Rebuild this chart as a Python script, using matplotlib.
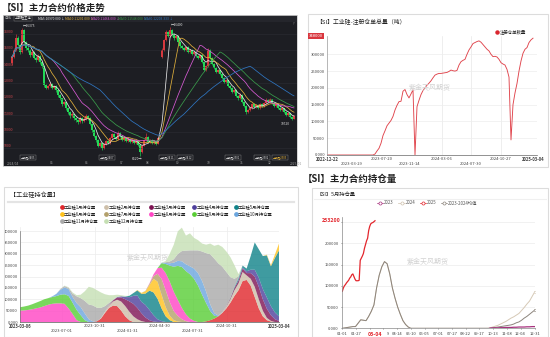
import numpy as np
import pandas as pd
import matplotlib
matplotlib.use('Agg')
import matplotlib.pyplot as plt
from matplotlib.patches import Rectangle
from matplotlib.lines import Line2D

plt.rcParams['font.family'] = ['Noto Sans CJK SC', 'DejaVu Sans']
plt.rcParams['axes.unicode_minus'] = False

# ---------------- data: SI main contract daily candles (two legs) ----------------
open1_first = 14200
close1 = [14590, 15020, 15750, 15330, 14900, 16250, 15500, 15140, 15020, 14710,
          14900, 14530, 14400, 14650, 14280, 14040, 12870, 12690, 12810, 12930,
          12690, 12810, 12560, 12260, 12070, 11700, 11820, 11460, 11210, 10970,
          11090, 10850, 10720, 10600, 10850, 10660, 10790, 10970, 10850, 10480,
          10110, 9740, 9500, 9130, 9310, 9000, 9250, 9430, 9310, 9620,
          9860, 9680, 9560, 9930, 9740, 9500, 9620, 9430, 9560, 9370,
          9500, 9310, 9430, 9190, 8760, 9130, 9500, 9680, 9370, 9500,
          9310, 9430, 9250, 9620]
high1 = [14700, 15150, 16000, 15850, 15400, 16375, 16300, 15600, 15300, 15100,
         15050, 14950, 14650, 14750, 14700, 14350, 14100, 12950, 12900, 13050,
         12980, 12900, 12850, 12600, 12300, 12100, 11900, 11850, 11500, 11250,
         11200, 11120, 10900, 10780, 10950, 10900, 10880, 11100, 11000, 10900,
         10520, 10150, 9800, 9550, 9400, 9350, 9320, 9500, 9480, 9700,
         9950, 9900, 9720, 10050, 9980, 9780, 9700, 9650, 9650, 9600,
         9580, 9550, 9500, 9460, 9220, 9200, 9560, 9900, 9720, 9580,
         9540, 9500, 9470, 9700]
low1 = [14100, 14500, 14950, 15250, 14800, 14850, 15400, 15000, 14900, 14600,
        14650, 14450, 14300, 14350, 14150, 13900, 12750, 12600, 12600, 12750,
        12600, 12620, 12450, 12150, 11950, 11600, 11650, 11350, 11100, 10850,
        10900, 10750, 10600, 10500, 10550, 10550, 10600, 10750, 10750, 10400,
        10000, 9650, 9400, 9050, 9080, 8900, 8950, 9200, 9250, 9280,
        9580, 9600, 9480, 9520, 9650, 9420, 9450, 9350, 9400, 9300,
        9320, 9250, 9280, 9100, 8520, 8700, 9100, 9450, 9300, 9320,
        9250, 9280, 9180, 9220]
open2_first = 14600
close2 = [15020, 15630, 16120, 15880, 16250, 16000, 15750, 15880, 15510, 15260,
          15140, 15020, 15200, 14900, 15020, 14770, 14900, 14650, 14530, 14710,
          14280, 13790, 14040, 15020, 14530, 14160, 13910, 13670, 13790, 13550,
          13300, 13060, 13180, 12810, 12690, 12440, 12560, 12200, 12070, 12260,
          11830, 11580, 11210, 11330, 11460, 11700, 11520, 11640, 11460, 11700,
          11580, 11760, 11950, 11830, 12010, 11760, 11580, 11700, 11460, 11330,
          11460, 11210, 11030, 11150, 10910, 10790, 10970]
high2 = [15150, 15700, 16250, 16200, 16400, 16300, 16050, 15950, 15920, 15550,
         15320, 15200, 15280, 15250, 15100, 15060, 14980, 14950, 14700, 14800,
         14750, 14300, 14100, 15150, 15050, 14580, 14200, 13950, 13850, 13820,
         13600, 13350, 13250, 13200, 12880, 12720, 12650, 12600, 12250, 12350,
         12300, 11880, 11620, 11400, 11550, 11780, 11750, 11720, 11680, 11780,
         11750, 11850, 12050, 11990, 12100, 12040, 11800, 11760, 11730, 11500,
         11520, 11480, 11250, 11200, 11180, 10950, 11020]
low2 = [14500, 14950, 15550, 15800, 15820, 15900, 15650, 15700, 15420, 15150,
        15050, 14950, 14980, 14820, 14850, 14700, 14700, 14580, 14450, 14480,
        14200, 13700, 13750, 14000, 14450, 14080, 13850, 13600, 13600, 13480,
        13220, 12980, 13000, 12750, 12600, 12350, 12400, 12120, 11980, 12020,
        11750, 11500, 11100, 11150, 11280, 11420, 11450, 11480, 11400, 11420,
        11500, 11550, 11720, 11760, 11800, 11700, 11500, 11530, 11400, 11260,
        11300, 11150, 10960, 10980, 10850, 10720, 10760]
price_ticks = [9000, 10000, 11000, 12000, 13000, 14000, 15000, 16000]
month_labels = ['2024/04', '05', '06', '07', '08', '09', '10', '11', '12', '2025/01']
month_pos = [0.5, 20, 37.5, 55, 68, 83, 98, 115, 129, 142]

# ---------------- data: registered warehouse receipts (thousand t) ----------------
receipts = [0] * 24 + [
    3, 12, 20, 35, 58, 72, 87, 95, 103, 115, 134, 148, 159, 160, 190, 195, 180, 170,
    182, 194, 0, 144, 163, 180, 192, 200, 208, 214, 221, 230, 238, 241, 243, 243,
    244, 245, 246, 249, 253, 251, 250, 252, 268, 278, 282, 285, 300, 313, 322, 332,
    335, 338, 340, 336, 329, 322, 315, 310, 300, 293, 294, 292, 285, 275, 271, 268,
    255, 232, 45, 150, 185, 213, 250, 280, 303, 315, 320, 335, 343, 348]
receipt_dates = ['2022-12-22', '2023-03-29', '2023-07-20', '2023-11-14',
                 '2024-03-06', '2024-07-30', '2024-10-27', '2025-03-04']
receipt_date_pos = [0, 12.3, 27.3, 41.5, 57.3, 72, 86.8, 103]

# ---------------- data: open interest by delivery month (thousand lots) ----------------
month_names = ['工业硅1月持仓量', '工业硅2月持仓量', '工业硅3月持仓量', '工业硅4月持仓量',
               '工业硅5月持仓量', '工业硅6月持仓量', '工业硅7月持仓量', '工业硅8月持仓量',
               '工业硅9月持仓量', '工业硅10月持仓量', '工业硅11月持仓量', '工业硅12月持仓量']
oi_m01 = {19: [3, 15, 40, 62, 72, 70, 50, 25, 8],
          46: [3, 8, 15, 25, 40, 60, 85, 115, 140, 180, 185, 160, 110, 60, 25, 8, 2]}
oi_m02 = {20: [2, 5, 10, 18, 28, 40, 45, 38, 25, 12, 4],
          50: [3, 8, 15, 25, 30, 40, 20, 30, 45, 40, 25, 10, 3]}
oi_m03 = {22: [2, 5, 10, 18, 30, 45, 55, 50, 35, 20, 8, 2],
          51: [2, 5, 10, 12, 15, 10, 25, 45, 55, 50, 40, 25, 12, 5]}
oi_m04 = {24: [2, 5, 10, 18, 35, 55, 50, 55, 45, 28, 12, 4],
          54: [3, 5, 8, 15, 30, 40, 45, 50, 40, 30, 20]}
oi_m05 = {26: [2, 6, 12, 22, 35, 50, 85, 100, 90, 55, 25, 8],
          52: [2, 5, 8, 8, 12, 60, 120, 125, 145, 185, 175, 240, 290]}
oi_m06 = {29: [2, 4, 10, 25, 60, 75, 60, 40, 20, 8, 2],
          61: [3, 5, 15, 30]}
oi_m07 = {31: [2, 5, 12, 35, 70, 75, 60, 40, 25, 12, 4]}
oi_m08 = {0: [50, 51, 53, 56, 60, 64, 70, 76, 80, 82, 82, 80, 60, 35, 8],
          32: [2, 8, 25, 50, 75, 90, 85, 70, 50, 30, 15, 5]}
oi_m09 = {0: [15, 17, 19, 22, 25, 28, 30, 29, 30, 32, 38, 42, 55, 50, 45, 30, 8],
          35: [20, 40, 70, 110, 150, 180, 190, 195, 185, 160, 120, 80, 40, 12]}
oi_m10 = {8: [3, 10, 22, 30, 30, 25, 30, 35, 30, 12, 3],
          35: [2, 5, 10, 18, 22, 25, 30, 35, 45, 55, 60, 50, 30, 12, 3]}
oi_m11 = {10: [3, 6, 5, 15, 30, 40, 55, 65, 70, 60, 45, 25, 10, 3],
          36: [3, 8, 15, 30, 45, 60, 70, 80, 100, 130, 170, 220, 240, 230, 200, 150, 90, 35, 8]}
oi_m12 = {10: [1, 2, 3, 5, 5, 15, 42, 78, 77, 77, 68, 52, 34, 20, 10, 5, 3],
          36: [5, 34, 64, 100, 103, 66, 75, 55, 45, 35, 37, 47, 56, 82, 87, 90, 88, 60, 10]}
oi_dates = ['2023-03-06', '2023-07-01', '2023-10-31', '2024-01-31',
            '2024-04-30', '2024-07-31', '2024-10-31', '2025-03-04']
oi_date_pos = [0, 10.4, 18.5, 26.7, 34.6, 42.7, 51.1, 64]
n_oi = 65

# ---------------- data: May contract OI by calendar day (thousand lots) ----------------
days5 = list(range(0, 366, 5))
oi_2023 = [np.nan] * 56 + [0.5, 1, 1, 1, 1.5, 1.5, 2, 2, 2, 2.5, 2.5, 3, 3, 3, 3.5, 3.5, 4, 4]
oi_2024 = [0, 1, 2, 3, 4, 4, 12, 20, 19, 18, 28, 40, 55, 95, 125, 145, 157, 152, 128, 95,
           71, 50, 33, 18, 9, 3, 0] + [0] * 29 + [
           1, 3, 5, 7, 10, 13, 16, 20, 24, 27, 31, 35, 42, 49, 57, 64, 75, 86]
oi_avg = [0, 1, 2, 3, 4, 4, 12, 20, 19, 18, 28, 40, 55, 95, 125, 145, 157, 152, 128, 95,
          71, 50, 33, 18, 9, 3, 0] + [0] * 29 + [
          0, 1, 2, 3, 4, 5, 6, 7, 8, 10, 13, 15, 19, 24, 28, 33, 38, 43]
days2 = list(range(0, 63, 2))
oi_2025 = [87, 95, 100, 103, 107, 110, 113, 118, 121, 126, 128, 122, 116, 112, 112, 112,
           113, 160, 165, 170, 176, 188, 197, 206, 212, 230, 240, 246, 248, 249, 251, 253.2]
doy_labels = ['01-01', '01-27', '', '', '04-14', '05-10', '06-05', '07-01',
              '07-27', '08-22', '09-17', '10-13', '11-08', '12-04', '12-31']
doy_pos = [0, 26, 52, 78, 104, 130, 156, 182, 208, 234, 260, 286, 312, 338, 365]

# ---------------- figure ----------------
W, H = 550, 337
fig = plt.figure(figsize=(5.5, 3.37), dpi=100)
fig.patch.set_facecolor('white')


def box(l, t, w, h):
    return [l / W, 1 - (t + h) / H, w / W, h / H]


def ftext(x, y, s, **kw):
    return fig.text(x / W, 1 - y / H, s, **kw)


def frame(l, t, w, h, ec='#dcdcdc', lw=0.8):
    fig.add_artist(Rectangle((l / W, 1 - (t + h) / H), w / W, h / H,
                             transform=fig.transFigure, fill=False, ec=ec, lw=lw))


def hline(x0, x1, y, color='#e6e6e6', lw=1.5):
    fig.add_artist(Line2D([x0 / W, x1 / W], [1 - y / H, 1 - y / H],
                          transform=fig.transFigure, color=color, lw=lw))


ink = '#222222'
tick_c = '#444444'

# ===== top left: candles =====
ftext(2, 8, '【SI】主力合约价格走势', fontsize=6.8, fontweight='bold', color=ink, va='center')
ax1 = fig.add_axes(box(3, 15, 294, 151))
ax1.set_facecolor('#1d1e23')
for s in ax1.spines.values():
    s.set_color('#cfcfcf')
    s.set_linewidth(0.6)
ax1.set_xticks([])
ax1.set_yticks([])
ax1.set_xlim(-4.5, 142.5)
ax1.set_ylim(7900, 17165)

x1 = np.arange(len(close1))
x2 = np.arange(len(close2)) + len(close1) + 1
xs = np.r_[x1, x2]
closes = np.r_[close1, close2].astype(float)
opens = np.r_[open1_first, close1[:-1], open2_first, close2[:-1]].astype(float)
highs = np.r_[high1, high2]
lows = np.r_[low1, low2]

ax1.hlines(price_ticks, -4.5, 142.5, color='#2c2d34', lw=0.4)
for p in price_ticks:
    ax1.text(-3.9, p + 120, f'{p}', color='#c9464c', fontsize=2.6, va='center')

cols = np.where(closes >= opens, '#d8393f', '#22d957')
ax1.vlines(xs, lows, highs, colors=cols, lw=0.45)
body = np.maximum(np.abs(closes - opens), 30)
ax1.bar(xs, body, bottom=np.minimum(opens, closes), width=0.8, color=cols, lw=0)

ma_set = [(5, '#e8e8e8', 'MA5'), (10, '#e0b03c', 'MA10'), (20, '#d75bd4', 'MA20'),
          (30, '#3a9b4b', 'MA30'), (45, '#2f76c2', 'MA60')]
cs = pd.Series(closes)
ma_last = []
for w, c, name in ma_set:
    m = cs.rolling(w, min_periods=1).mean()
    ax1.plot(xs, m, color=c, lw=0.55)
    ma_last.append((name, m.iloc[-1], c))

# top strip
ax1.add_patch(Rectangle((0, 0.955), 1, 0.045, transform=ax1.transAxes, color='#25262c', lw=0))
ax1.text(0.006, 0.977, '日线', transform=ax1.transAxes, fontsize=2.4, color='#bbbbbb', va='center')
ax1.text(0.04, 0.977, '上期硅主连', transform=ax1.transAxes, fontsize=2.4, color='#dddddd', va='center',
         bbox=dict(boxstyle='square,pad=0.15', fc='#1d1e23', ec='#888888', lw=0.3))
tx = 0.12
for name, val, c in ma_last:
    ax1.text(tx, 0.977, f'{name}:{val:.3f} ↓', transform=ax1.transAxes, fontsize=2.4, color=c, va='center')
    tx += 0.09
ax1.text(0.985, 0.94, '?', transform=ax1.transAxes, fontsize=2.4, color='#999999', va='center')

# extreme price tags
ax1.text(5.5, 16520, '←16375', fontsize=2.4, color='#dddddd', va='center')
ax1.text(79.5, 16550, '←16400', fontsize=2.4, color='#dddddd', va='center')
ax1.text(60, 8350, '8520→', fontsize=2.4, color='#dddddd', va='center')
ax1.text(134.5, 10500, '10720', fontsize=2.4, color='#dddddd', va='center')

# contract switch tags and month axis
for pos, txt, c in [(8, '上期硅2405', '#dddddd'), (47.5, '上期硅2407', '#dddddd'),
                    (77.5, '上期硅2411', '#dddddd'), (86.5, '上期硅2412', '#dddddd'),
                    (110.5, '上期硅2501', '#dddddd'), (125, '上期硅2502', '#dddddd'),
                    (134, '上期硅2505', '#e0b03c')]:
    ax1.text(pos, 8420, txt, fontsize=2.0, color=c, ha='center', va='center',
             bbox=dict(boxstyle='square,pad=0.2', fc='#1d1e23', ec='#8a8a8a', lw=0.3))
for pos, txt in zip(month_pos, month_labels):
    ax1.text(pos, 8060, txt, fontsize=2.4, color='#9a9a9a', ha='center', va='center')

# ===== top right: warehouse receipts =====
frame(308, 14, 240, 153)
ftext(316, 22, '【SI】工业硅-注册仓单总量（吨）', fontsize=4.2, color=ink, va='center')
ax2 = fig.add_axes(box(327, 36, 210, 119))
ri = np.arange(len(receipts))
ax2.plot(ri, np.array(receipts) * 1000, color='#e0444c', lw=0.65)
ax2.set_xlim(0, 105)
ax2.set_ylim(0, 354500)
ax2.set_yticks(range(0, 300001, 50000))
ax2.set_yticklabels(['0.000'] + [str(v) for v in range(50000, 300001, 50000)])
ax2.set_xticks(receipt_date_pos)
ax2.set_xticklabels([d if k % 2 == 0 or k == len(receipt_dates) - 1 else '\n' + d
                     for k, d in enumerate(receipt_dates)])
for k, lab in enumerate(ax2.get_xticklabels()):
    if k in (0, len(receipt_dates) - 1):
        lab.set_fontweight('bold')
ax2.tick_params(labelsize=3, length=0, pad=1.5, colors=tick_c)
ax2.grid(axis='y', color='#ededed', lw=0.5)
for p in receipt_date_pos[4:7]:
    ax2.axvline(p, color='#e8e8e8', lw=0.5, zorder=0)
for s in ['top', 'right']:
    ax2.spines[s].set_visible(False)
ax2.spines['left'].set_color('#9a9a9a')
ax2.spines['left'].set_linewidth(0.5)
ax2.spines['bottom'].set_color('#666666')
ax2.spines['bottom'].set_linewidth(0.5)
ftext(316, 36, f'{receipts[-1] * 1000}', fontsize=3, color='white', va='center', ha='center',
      bbox=dict(boxstyle='square,pad=0.2', fc='#d9363e', ec='none'))
fig.add_artist(Line2D([497 / W], [1 - 32 / H], marker='o', ms=2.2, color='#d9262e',
                      transform=fig.transFigure))
ftext(500, 32, '注册仓单数量', fontsize=3.2, color=ink, va='center')
ftext(430, 88, '紫金天风期货', fontsize=5, color='#d2d2d2', ha='center', va='center')

# ===== bottom left: stacked open interest =====
frame(4, 187, 294, 150)
ftext(10, 195, '【工业硅持仓量】', fontsize=4.4, color=ink, va='center')
hline(8, 294, 202, color='#e4e4e4', lw=1.6)

all_months = [oi_m01, oi_m02, oi_m03, oi_m04, oi_m05, oi_m06,
              oi_m07, oi_m08, oi_m09, oi_m10, oi_m11, oi_m12]
layers = []
for segs in all_months:
    arr = np.zeros(n_oi)
    for start, vals in segs.items():
        arr[start:start + len(vals)] = vals
    layers.append(arr * 1000)
month_cols = ['#e0262b', '#cdbfa9', '#7d1252', '#4d3e9b', '#0f8289', '#ffc21c',
              '#b3a06b', '#ff44c4', '#58cd34', '#6aa5de', '#a9a9a9', '#c5dfb3']

ax3 = fig.add_axes(box(20, 226.5, 259, 95.5))
ax3.stackplot(np.arange(n_oi), layers, colors=month_cols, alpha=0.8, lw=0)
ax3.set_xlim(0, n_oi - 1)
ax3.set_ylim(0, 420000)
ax3.set_yticks(range(0, 400001, 50000))
ax3.set_yticklabels(['0.000'] + [str(v) for v in range(50000, 400001, 50000)])
ax3.set_xticks(oi_date_pos)
ax3.set_xticklabels([d if k % 2 == 0 or k == len(oi_dates) - 1 else '\n' + d
                     for k, d in enumerate(oi_dates)])
for k, lab in enumerate(ax3.get_xticklabels()):
    if k in (0, len(oi_dates) - 1):
        lab.set_fontweight('bold')
ax3.tick_params(labelsize=3, length=0, pad=1.5, colors=tick_c)
ax3.grid(color='#ececec', lw=0.5)
ax3.set_axisbelow(True)
for s in ['top', 'right']:
    ax3.spines[s].set_visible(False)
ax3.spines['left'].set_color('#777777')
ax3.spines['left'].set_linewidth(0.5)
ax3.spines['left'].set_bounds(0, 400000)
ax3.spines['bottom'].set_color('#555555')
ax3.spines['bottom'].set_linewidth(0.5)

leg_x = [61.5, 106, 151, 194, 235.5]
leg_y = [207, 213.5, 221]
for k, (name, c) in enumerate(zip(month_names, month_cols)):
    lx, ly = leg_x[k % 5], leg_y[k // 5]
    fig.add_artist(Line2D([lx / W], [1 - ly / H], marker='o', ms=2.4, color=c, lw=0,
                          transform=fig.transFigure))
    ftext(lx + 2.5, ly, name, fontsize=3.1, color=ink, va='center')
ftext(148, 258, '紫金天风期货', fontsize=5, color='#d2d2d2', ha='center', va='center')

# ===== bottom right: May contract OI =====
ftext(303, 179, '【SI】主力合约持仓量', fontsize=6.8, fontweight='bold', color=ink, va='center')
frame(312, 188, 236, 149)
ftext(316, 194.5, '【SI】5月持仓量', fontsize=3.8, color=ink, va='center')
hline(314, 546, 199.5, color='#f0f0f0', lw=0.8)

ax4 = fig.add_axes(box(342.3, 217, 193, 111.3))
ax4.plot(days5, np.array(oi_2024) * 1000, color='#d6c9b6', lw=0.7)
ax4.plot(days5, np.array(oi_avg) * 1000, color='#8c847c', lw=0.7)
ax4.plot(days5, np.array(oi_2023) * 1000, color='#a8327e', lw=0.9)
ax4.plot(days2, np.array(oi_2025) * 1000, color='#e3262d', lw=0.9)
for yr, c in [(oi_2024, '#d6c9b6'), (oi_avg, '#8c847c')]:
    ax4.plot(days5[-1], yr[-1] * 1000, marker='o', ms=1.8, mfc='white', mec=c, mew=0.4)
ax4.set_xlim(0, 366)
ax4.set_ylim(0, 262000)
ax4.set_yticks(range(0, 250001, 50000))
ax4.set_yticklabels(['0.000'] + [str(v) for v in range(50000, 200001, 50000)] + [''])
ax4.set_xticks(doy_pos)
ax4.set_xticklabels(doy_labels)
ax4.tick_params(labelsize=3, length=1, width=0.4, pad=1.5, colors=tick_c)
ax4.grid(axis='y', color='#ececec', lw=0.5)
ax4.set_axisbelow(True)
for s in ['top', 'right']:
    ax4.spines[s].set_visible(False)
ax4.spines['left'].set_color('#888888')
ax4.spines['left'].set_linewidth(0.5)
ax4.spines['bottom'].set_color('#888888')
ax4.spines['bottom'].set_linewidth(0.5)
ax4.text(-4, oi_2025[-1] * 1000, f'{oi_2025[-1] * 1000:.0f}', fontsize=3.8, color='#e3262d',
         fontweight='bold', ha='right', va='center',
         bbox=dict(boxstyle='square,pad=0.1', fc='white', ec='none'))
ax4.text(days2[-1], -9000, '03-04', fontsize=3.8, color='#e3262d', fontweight='bold',
         ha='center', va='top', bbox=dict(boxstyle='square,pad=0.15', fc='white', ec='none'))
ax4.text(86, -9000, '9', fontsize=3, color=tick_c, ha='center', va='top')

leg4 = [('2023', '#a8327e', 380), ('2024', '#cfc2ae', 401.5), ('2025', '#e3262d', 423),
        ('2023-2024均值', '#8c847c', 443.5)]
for name, c, lx in leg4:
    fig.add_artist(Line2D([(lx - 3) / W, (lx + 3) / W], [1 - 203 / H] * 2, color=c, lw=0.5,
                          transform=fig.transFigure))
    fig.add_artist(Line2D([lx / W], [1 - 203 / H], marker='o', ms=2.2, mfc='white', mec=c,
                          mew=0.5, transform=fig.transFigure))
    ftext(lx + 4, 203, name, fontsize=3.1, color='#555555', va='center')
ftext(428, 262, '紫金天风期货', fontsize=5, color='#d2d2d2', ha='center', va='center')

fig.savefig('out.png', dpi=100)
